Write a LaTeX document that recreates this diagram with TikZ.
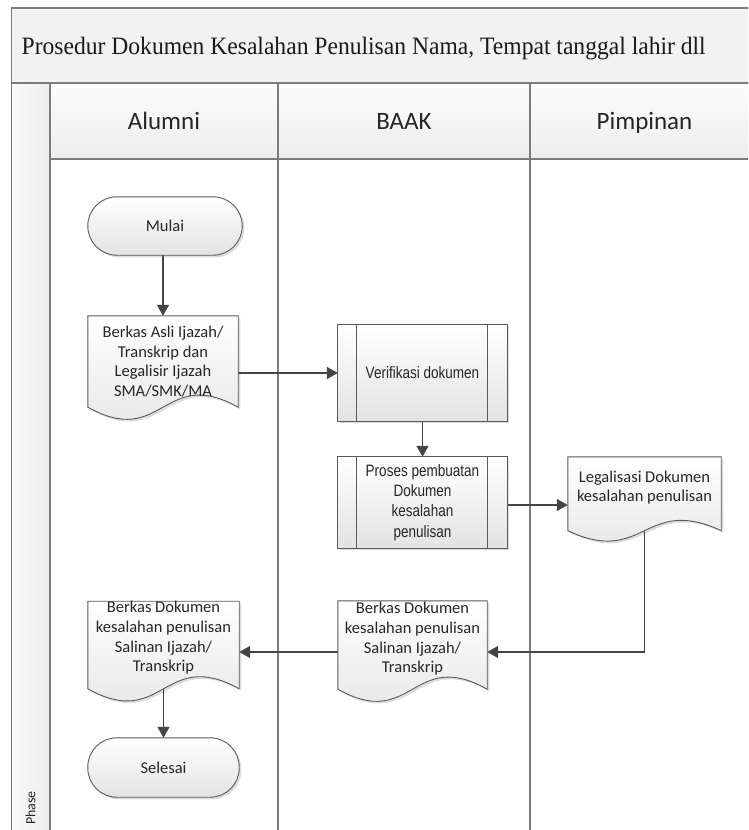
\documentclass[tikz,border=0pt]{standalone}
\usepackage{graphicx}
\usepackage{fontspec}
\setmainfont{Carlito}
\newfontfamily\titlefont{Liberation Serif}
\newfontfamily\narrowfont[FakeStretch=0.82]{Liberation Sans}
\usetikzlibrary{arrows.meta,shadows,calc}

\definecolor{framegray}{HTML}{7C7C7C}
\definecolor{edgegray}{HTML}{5A5A5A}
\definecolor{linegray}{HTML}{454545}
\definecolor{bandgray}{HTML}{F2F2F2}
\definecolor{inkgray}{HTML}{262626}

\pgfdeclarelayer{frame}
\pgfdeclarelayer{lines}
\pgfdeclarelayer{shapes}
\pgfsetlayers{frame,lines,shapes,main}

\tikzset{
  lanerule/.style={draw=framegray, line width=1.6pt},
  hdr/.style={font=\fontsize{25}{30}\selectfont, text=inkgray, inner sep=0pt},
  shapefill/.style={draw=edgegray, line width=0.9pt, top color=white, bottom color=black!11,
    drop shadow={opacity=0.22, fill=black!60, shadow xshift=2.2pt, shadow yshift=-2.2pt}},
  lbl/.style={font=\fontsize{16.5}{19.7}\selectfont, align=center, inner sep=0pt, text=inkgray},
  narrowlbl/.style={font=\narrowfont\fontsize{16.5}{20.3}\selectfont, align=center, inner sep=0pt, text=inkgray},
  flow/.style={draw=linegray, line width=1.2pt, -{Triangle[length=11pt,width=12pt]}}
}

% document symbol: straight top and sides, wavy bottom #2 pt below the node box, wave strength #3
\newcommand{\docshape}[3]{%
  \path[shapefill] (#1.north west) -- (#1.north east) -- ([yshift=-#2pt]#1.south east)
    .. controls ($([yshift=-#2pt]#1.south)+(0,-#3)$) and ($([yshift=-#2pt]#1.south)+(0,#3)$)
    .. ([yshift=-#2pt]#1.south west) -- cycle;}
% predefined process: box with two inner bars
\newcommand{\subprocshape}[1]{%
  \path[shapefill] (#1.north west) rectangle (#1.south east);
  \draw[draw=edgegray, line width=0.9pt] ([xshift=19pt]#1.north west) -- ([xshift=19pt]#1.south west);
  \draw[draw=edgegray, line width=0.9pt] ([xshift=-20pt]#1.north east) -- ([xshift=-20pt]#1.south east);}
% terminator: stadium
\newcommand{\termshape}[1]{%
  \path[shapefill, rounded corners=29pt] (#1.north west) rectangle (#1.south east);}

\begin{document}
\begin{tikzpicture}[x=1pt,y=-1pt]
\useasboundingbox (0,0) rectangle (748,830);

% swimlane frame
\begin{pgfonlayer}{frame}
  \clip (0,0) rectangle (748,830);
  \path[fill=bandgray] (11.5,8) rectangle (770,83);
  \path[top color=black!1, bottom color=black!7] (50,83) rectangle (770,159);
  \path[left color=black!2, right color=black!7] (11.5,83) rectangle (50,845);
  \draw[lanerule] (770,8) -- (11.5,8) -- (11.5,845);
  \draw[lanerule] (11.5,83) -- (770,83);
  \draw[lanerule] (50,159) -- (770,159);
  \foreach \x in {50,278,530} \draw[lanerule] (\x,83) -- (\x,845);
\end{pgfonlayer}

\node[anchor=base west, inner sep=0pt, text=black!90] (title) at (21.5,54.5)
  {\resizebox{684pt}{\height}{\titlefont\fontsize{25}{30}\selectfont Prosedur Dokumen Kesalahan Penulisan Nama, Tempat tanggal lahir dll}};
\node[hdr, anchor=base] (hAlumni) at (164,129.3) {Alumni};
\node[hdr, anchor=base] (hBaak) at (404,129.3) {BAAK};
\node[hdr, anchor=base] (hPimpinan) at (644.5,129.3) {Pimpinan};
\node[font=\fontsize{14}{16}\selectfont, text=inkgray, rotate=90, inner sep=0pt] (phase) at (30.5,808) {Phase};

% flow nodes
\node[lbl, minimum width=154pt, minimum height=58pt] (mulai) at (165,226) {Mulai};
\node[lbl, minimum width=150pt, minimum height=91pt] (asli) at (163,361.5)
  {Berkas Asli Ijazah/\\Transkrip dan\\Legalisir Ijazah\\SMA/SMK/MA};
\node[narrowlbl, minimum width=169pt, minimum height=96pt] (verif) at (422.5,373) {Verifikasi dokumen};
\node[narrowlbl, minimum width=169pt, minimum height=91pt] (proses) at (422.5,502.5)
  {Proses pembuatan\\Dokumen\\kesalahan\\penulisan};
\node[lbl, minimum width=153pt, minimum height=61pt] (legal) at (644.5,487.5)
  {Legalisasi Dokumen\\kesalahan penulisan};
\node[lbl, minimum width=149pt, minimum height=76pt] (bdoc) at (412.5,639)
  {Berkas Dokumen\\kesalahan penulisan\\Salinan Ijazah/\\Transkrip};
\node[lbl, minimum width=151pt, minimum height=72pt] (adoc) at (163.5,638)
  {Berkas Dokumen\\kesalahan penulisan\\Salinan Ijazah/\\Transkrip};
\node[lbl, minimum width=151pt, minimum height=59pt] (selesai) at (163.5,767.5) {Selesai};

% symbols behind the labels
\begin{pgfonlayer}{shapes}
  \termshape{mulai}
  \docshape{asli}{0}{42}
  \subprocshape{verif}
  \subprocshape{proses}
  \docshape{legal}{12.5}{36}
  \docshape{bdoc}{12}{42}
  \docshape{adoc}{14}{42}
  \termshape{selesai}
\end{pgfonlayer}

% connectors
\begin{pgfonlayer}{lines}
  \draw[flow] (asli.north |- mulai.south) -- (asli.north);
  \draw[flow] (verif.west -| asli.east) -- (verif.west);
  \draw[flow] (verif.south) -- (proses.north);
  \draw[flow] ([yshift=-2.5pt]proses.east) -- ([yshift=-2.5pt]proses.east -| legal.west);
  \draw[flow] (legal.south) |- ([yshift=-13pt]bdoc.east);
  \draw[flow] ([yshift=-13pt]bdoc.west) -- ([yshift=-13pt]bdoc.west -| adoc.east);
  \draw[flow] (adoc.south) -- (selesai.north);
\end{pgfonlayer}
\end{tikzpicture}
\end{document}
